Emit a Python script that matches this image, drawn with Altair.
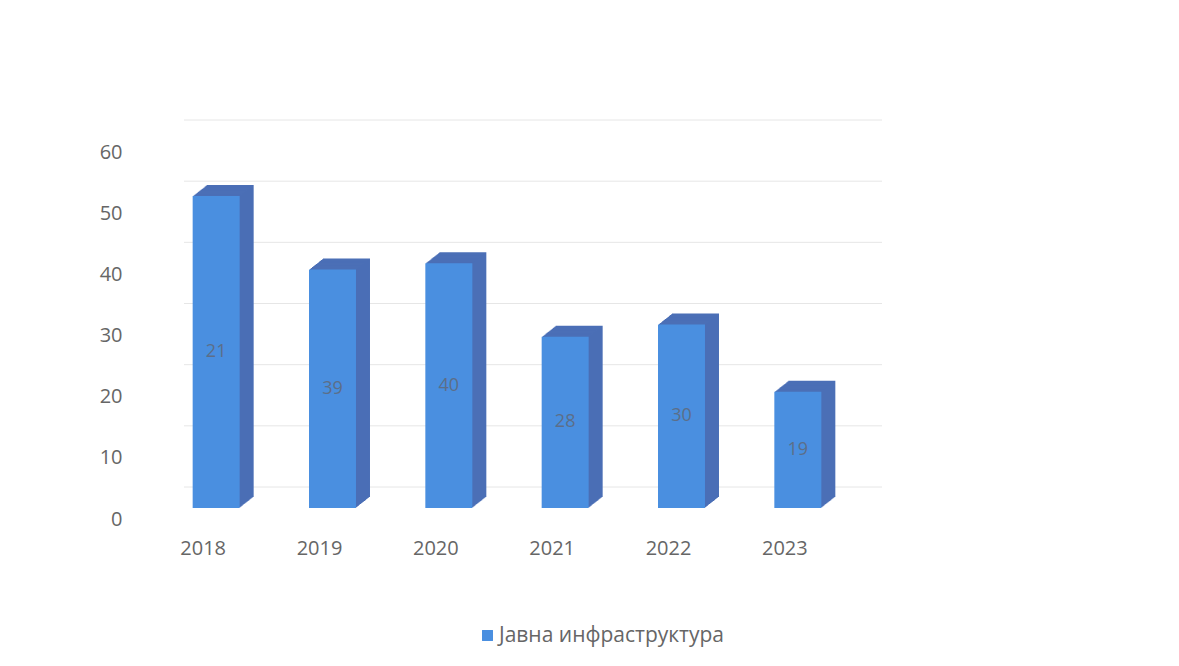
import altair as alt
import pandas as pd

years = ["2018", "2019", "2020", "2021", "2022", "2023"]
values = [51, 39, 40, 28, 30, 19]
labels = ["21", "39", "40", "28", "30", "19"]
series = "Јавна инфраструктура"
ticks = [0, 10, 20, 30, 40, 50, 60]

df = pd.DataFrame({"year": years, "value": values, "label": labels, "series": [series] * len(years)})
grid_df = pd.DataFrame({"tick": ticks})

FONT = "Open Sans"
W, H = 698, 367
FRONT = "#4a8fe0"
SIDE = "#4b6fb6"
LABEL = "#666666"

x_enc = alt.X("year:N", sort=years,
              scale=alt.Scale(paddingInner=0.596, paddingOuter=0.298),
              axis=alt.Axis(title=None, domain=False, ticks=False, labelAngle=0,
                            labelPadding=30, labelOffset=-13, labelFont=FONT,
                            labelFontSize=20, labelColor=LABEL))
y_scale = alt.Scale(domain=[0, 60], nice=False)

grid = alt.Chart(grid_df).mark_rule(color="#e6e6e6", strokeWidth=1, yOffset=-21).encode(
    y=alt.Y("tick:Q", scale=y_scale,
            axis=alt.Axis(title=None, domain=False, ticks=False, grid=False,
                          values=ticks, labelPadding=36, labelOffset=11,
                          labelFont=FONT, labelFontSize=20, labelColor=LABEL)),
    x=alt.value(26), x2=alt.value(724),
)

layers = [grid]
depth = 14
for k in range(depth, 0, -1):
    dy = -k * 11.0 / depth
    layers.append(
        alt.Chart(df).mark_bar(color=SIDE, xOffset=k, yOffset=dy, y2Offset=dy).encode(
            x=x_enc, y=alt.Y("value:Q", scale=y_scale)
        )
    )

front = alt.Chart(df).mark_bar().encode(
    x=x_enc,
    y=alt.Y("value:Q", scale=y_scale),
    color=alt.Color("series:N", scale=alt.Scale(domain=[series], range=[FRONT]),
                    legend=alt.Legend(title=None, orient="none", legendX=319, legendY=484,
                                      symbolType="square", symbolSize=120, symbolStrokeWidth=0,
                                      labelFont=FONT, labelFontSize=21, labelColor=LABEL,
                                      labelOffset=1, labelLimit=400, padding=0)),
)
layers.append(front)

text = alt.Chart(df).transform_calculate(mid="datum.value / 2").mark_text(
    font=FONT, fontSize=18, color="#5c6e88", baseline="middle", align="center"
).encode(x=x_enc, y=alt.Y("mid:Q", scale=y_scale), text="label:N")
layers.append(text)

chart = alt.layer(*layers).properties(
    width=W, height=H,
    background="white",
    autosize=alt.AutoSizeParams(type="none"),
    padding={"left": 150, "top": 133, "right": 300, "bottom": 150},
).configure_view(strokeWidth=0, stroke=None)

chart.save("out.html", embed_options={"renderer": "svg", "actions": False})
